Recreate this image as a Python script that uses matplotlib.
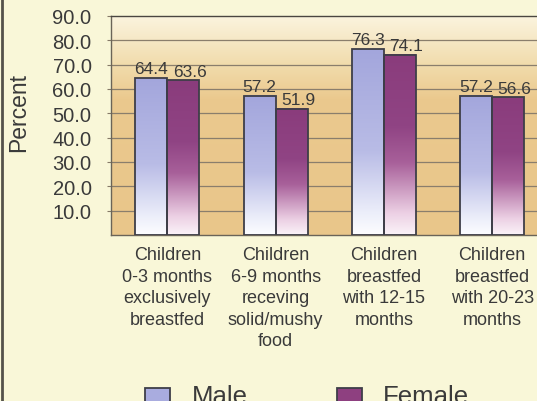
import numpy as np
import matplotlib.pyplot as plt
from matplotlib.colors import LinearSegmentedColormap
from matplotlib.patches import Rectangle
from matplotlib.lines import Line2D

# ---- data --------------------------------------------------------------
categories = [
    "Children\n0-3 months\nexclusively\nbreastfed",
    "Children\n6-9 months\nreceving\nsolid/mushy\nfood",
    "Children\nbreastfed\nwith 12-15\nmonths",
    "Children\nbreastfed\nwith 20-23\nmonths",
]
male = [64.4, 57.2, 76.3, 57.2]
female = [63.6, 51.9, 74.1, 56.6]
yticks = [10, 20, 30, 40, 50, 60, 70, 80, 90]

# ---- style -------------------------------------------------------------
plt.rcParams['font.family'] = ['Liberation Sans', 'DejaVu Sans']
text_col = '#3a3a3a'
page_col = '#f9f7d8'
edge_col = '#3e3e48'
bar_w = 0.295

# colour ramps run from the bar foot (0) up to the bar top (1)
male_cmap = LinearSegmentedColormap.from_list(
    'male', [(0.0, '#fdfdff'), (0.12, '#eceefa'), (0.45, '#b9bce6'), (1.0, '#a3a6dc')])
female_cmap = LinearSegmentedColormap.from_list(
    'female', [(0.0, '#fbf3f8'), (0.12, '#ecd0e4'), (0.4, '#a8609a'), (0.6, '#904484'), (1.0, '#8a3c7c')])
back_cmap = LinearSegmentedColormap.from_list(
    'back', [(0.0, '#e9c68a'), (0.62, '#ebc98e'), (0.78, '#f1dcac'), (1.0, '#fbf4de')])

fig = plt.figure(figsize=(5.37, 4.02), dpi=100, facecolor=page_col)
ax = fig.add_axes([111 / 537, 1 - 236 / 402, 437.5 / 537, 219 / 402])

x = np.arange(len(categories))
xlim = (-0.52, 3.52)
ylim = (0, 90)

# plot background gradient
ramp = np.linspace(0, 1, 256).reshape(-1, 1)
ax.imshow(ramp, cmap=back_cmap, origin='lower', aspect='auto',
          extent=(xlim[0], xlim[1], ylim[0], ylim[1]), zorder=0)

for yv in yticks[:-1]:
    ax.axhline(yv, color='#8a7e6c', lw=0.9, zorder=1)


def gradient_bar(xc, h, cmap):
    x0, x1 = xc - bar_w / 2, xc + bar_w / 2
    ax.imshow(ramp, cmap=cmap, origin='lower', aspect='auto',
              extent=(x0, x1, 0, h), zorder=2)
    ax.add_patch(Rectangle((x0, 0), bar_w, h, facecolor='none',
                           edgecolor=edge_col, lw=1.3, zorder=3))


for i in range(len(categories)):
    gradient_bar(x[i] - bar_w / 2, male[i], male_cmap)
    gradient_bar(x[i] + bar_w / 2, female[i], female_cmap)
    ax.text(x[i] - bar_w / 2, male[i] + 0.8, f"{male[i]:.1f}", ha='center', va='bottom',
            fontsize=12.5, color=text_col, zorder=4)
    ax.text(x[i] + bar_w / 2 + 0.06, female[i] + 0.6, f"{female[i]:.1f}", ha='center',
            va='bottom', fontsize=12.5, color=text_col, zorder=4)

ax.set_xlim(*xlim)
ax.set_ylim(*ylim)

ax.set_yticks(yticks)
ax.set_yticklabels([f"{v:.1f}" for v in yticks], fontsize=14.5, color=text_col)
ax.tick_params(axis='y', length=3, color='#867a68', pad=11)
ax.set_xticks(x)
ax.set_xticklabels(categories, fontsize=13, color=text_col, linespacing=1.35)
ax.tick_params(axis='x', length=0, pad=8)
fig.text(19 / 537, 1 - 112 / 402, 'Percent', rotation=90, ha='center', va='center',
         fontsize=16.5, color=text_col)

for side in ['left', 'top', 'right', 'bottom']:
    ax.spines[side].set_color('#6a6458')
    ax.spines[side].set_linewidth(1.0)
ax.spines['top'].set_color('#4a4640')

# legend along the page foot
fig.add_artist(Rectangle((145 / 537, -6 / 402), 25 / 537, 19 / 402,
                         transform=fig.transFigure, facecolor='#a9acdf',
                         edgecolor=edge_col, lw=1.3))
fig.add_artist(Rectangle((337 / 537, -6 / 402), 25 / 537, 19 / 402,
                         transform=fig.transFigure, facecolor='#8e4080',
                         edgecolor=edge_col, lw=1.3))
fig.text(192 / 537, -2 / 402, 'Male', fontsize=18.5, color=text_col, va='baseline')
fig.text(383 / 537, -2 / 402, 'Female', fontsize=18.5, color=text_col, va='baseline')

# page border on the left
fig.add_artist(Line2D([1.5 / 537, 1.5 / 537], [0, 1], transform=fig.transFigure,
                      color='#55524a', lw=2))

fig.savefig('out.png', dpi=100, facecolor=page_col)
